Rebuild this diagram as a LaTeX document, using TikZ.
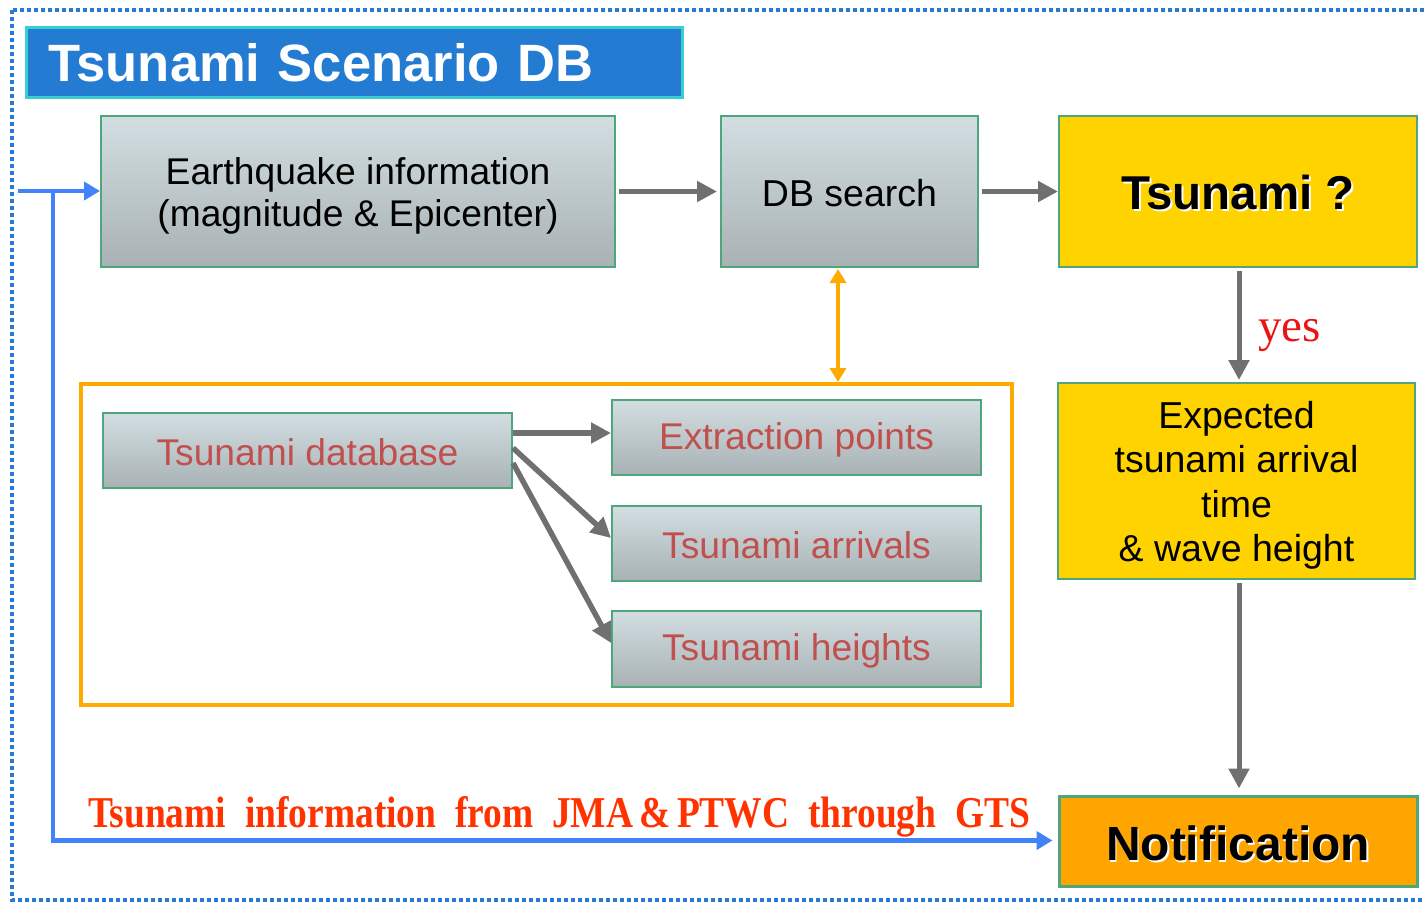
\documentclass[tikz,border=0pt]{standalone}
\usepackage{fontspec}
\usepackage{graphicx}
\setmainfont{Liberation Sans}
\newfontfamily\serifx{Liberation Serif}
\usetikzlibrary{arrows.meta,calc}
\definecolor{outerblue}{RGB}{40,122,212}
\definecolor{titlefill}{RGB}{36,124,210}
\definecolor{titlecyan}{RGB}{56,206,210}
\definecolor{boxgreen}{RGB}{80,166,124}
\definecolor{gtop}{RGB}{211,222,226}
\definecolor{gbot}{RGB}{168,178,181}
\definecolor{goldf}{RGB}{255,211,0}
\definecolor{notiff}{RGB}{255,165,0}
\definecolor{oframe}{RGB}{255,170,0}
\definecolor{arrgray}{RGB}{112,112,112}
\definecolor{bluel}{RGB}{66,130,250}
\definecolor{redt}{RGB}{192,80,77}
\definecolor{gtsred}{RGB}{255,50,0}
\definecolor{yesred}{RGB}{235,20,20}
\newcommand{\shadowtxt}[3]{\makebox[0pt][l]{\hspace*{#1}\raisebox{-#2}{\color{white}#3}}#3}
\tikzset{
  graybox/.style={draw=boxgreen, line width=2pt, top color=gtop, bottom color=gbot, inner sep=0pt, align=center},
  goldbox/.style={draw=boxgreen, line width=2pt, fill=goldf, inner sep=0pt, align=center},
  garrow/.style={draw=arrgray, line width=5pt, -{Triangle[length=20pt,width=20pt]}},
  barrow/.style={draw=bluel, line width=4.8pt, -{Triangle[length=16pt,width=18pt]}},
  oarrow/.style={draw=oframe, line width=4pt, {Triangle[length=14pt,width=16pt]}-{Triangle[length=14pt,width=16pt]}},
  bigtxt/.style={font=\fontsize{37.5}{44.3}\selectfont},
  redtxt/.style={font=\fontsize{37.2}{40}\selectfont, text=redt},
}
\begin{document}
\begin{tikzpicture}[x=1pt,y=-1pt]
\useasboundingbox (0,0) rectangle (1425,903);
% outer dotted frame
\draw[outerblue, line width=4pt, dash pattern=on 4pt off 3pt] (12,10) rectangle (1445,900);
% title
\node[draw=titlecyan, line width=3pt, fill=titlefill, anchor=north west, minimum height=70pt,
      text width=612pt, inner xsep=22pt, align=left, text=white,
      font=\fontsize{52.5}{60}\selectfont\bfseries] (title) at (25,26) {Tsunami Scenario DB};
% top row
\node[graybox, font=\fontsize{37.2}{42}\selectfont, minimum width=514pt, minimum height=151pt] (eq) at (358,191.5)
  {\rule{0pt}{36pt}Earthquake information\\(magnitude \& Epicenter)};
\node[graybox, bigtxt, minimum width=257pt, minimum height=151pt] (db) at (849.5,191.5) {\rule{0pt}{31pt}DB search};
\node[goldbox, font=\fontsize{47.5}{52}\selectfont\bfseries, minimum width=358pt, minimum height=151pt] (tq) at (1238,191.5)
  {\rule{0pt}{38pt}\shadowtxt{2pt}{2pt}{Tsunami ?}};
% expected
\node[goldbox, bigtxt, minimum width=357pt, minimum height=196pt] (exp) at (1236.5,481)
  {\rule{0pt}{36pt}Expected\\tsunami arrival\\time\\\& wave height};
% notification
\node[draw=boxgreen, line width=3pt, fill=notiff, minimum width=358pt, minimum height=90pt, inner sep=0pt,
      font=\fontsize{48}{52}\selectfont\bfseries] (notif) at (1238,841)
  {\rule{0pt}{42pt}\shadowtxt{1.5pt}{2pt}{Notification}};
% orange frame
\node[draw=oframe, line width=4pt, minimum width=931pt, minimum height=321pt, inner sep=0pt] (obox) at (546.5,544.5) {};
% database boxes
\node[graybox, redtxt, minimum width=409pt, minimum height=75pt] (tdb) at (307.5,450.5) {\rule{0pt}{31pt}Tsunami database};
\node[graybox, redtxt, minimum width=369pt, minimum height=75pt] (ep) at (796.5,437.5) {\rule{0pt}{31pt}Extraction points};
\node[graybox, redtxt, minimum width=369pt, minimum height=75pt] (ta) at (796.5,543.5) {\rule{0pt}{31pt}Tsunami arrivals};
\node[graybox, redtxt, minimum width=369pt, minimum height=76pt] (th) at (796.5,649) {\rule{0pt}{31pt}Tsunami heights};
% gray arrows
\draw[garrow, shorten <=3pt, shorten >=3pt] (eq.east) -- (db.west);
\draw[garrow, shorten <=3pt] (db.east) -- (tq.west);
\draw[garrow, shorten <=3pt, shorten >=2pt] (tq.south -| 1239,0) -- (exp.north -| 1239,0);
\draw[garrow, shorten <=3pt, shorten >=6pt] (exp.south -| 1239,0) -- (notif.north -| 1239,0);
\draw[garrow, line width=5.5pt] ($(tdb.east)+(0,-17.5)$) -- ($(ep.west)+(0,-4.5)$);
\draw[garrow, line width=5.5pt] ($(tdb.east)+(0,-2.5)$) -- ($(ta.west)+(0,-5.5)$);
\draw[garrow, line width=5.5pt] ($(tdb.east)+(0,12.5)$) -- ($(th.west)+(0,-6)$);
% yes label
\node[anchor=base west, inner sep=0pt, text=yesred, font=\serifx\fontsize{47}{50}\selectfont] (yes) at (1258,341) {yes};
% orange double arrow
\coordinate (dbs) at ([xshift=-11.5pt]db.south);
\draw[oarrow, shorten <=1pt] (dbs) -- (dbs |- obox.north);
% blue connectors
\coordinate (inL) at (18,191);
\draw[barrow] (inL) -- (eq.west |- inL);
\coordinate (vtop) at (53,193);
\coordinate (vbot) at (53,840.5);
\draw[bluel, line width=4.8pt] (vtop) -- (vbot);
\draw[barrow, shorten >=5pt] ([xshift=-2.4pt]vbot) -- (vbot -| notif.west);
% GTS label
\node[anchor=base west, inner sep=0pt, text=gtsred] (gts) at (88,827)
  {\resizebox{942pt}{\height}{\serifx\bfseries\fontsize{44}{44}\selectfont Tsunami\ \ information\ \ from\ \ JMA\,\&\,PTWC\ \ through\ \ GTS}};
\end{tikzpicture}
\end{document}
